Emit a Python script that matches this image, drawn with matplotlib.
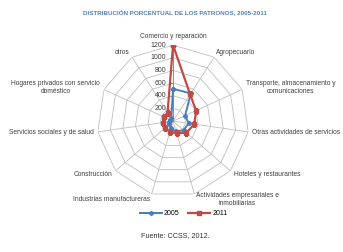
import numpy as np
import matplotlib
matplotlib.use("Agg")
import matplotlib.pyplot as plt

plt.rcParams["font.family"] = ["Liberation Sans", "DejaVu Sans"]

categories = [
    "Comercio y reparación",
    "Agropecuario",
    "Transporte, almacenamiento y\ncomunicaciones",
    "Otras actividades de servicios",
    "Hoteles y restaurantes",
    "Actividades empresariales e\ninmobiliarias",
    "Industrias manufactureras",
    "Construcción",
    "Servicios sociales y de salud",
    "Hogares privados con servicio\ndoméstico",
    "otros",
]
v2005 = [510, 520, 210, 250, 220, 170, 120, 80, 70, 60, 50]
v2011 = [1200, 500, 400, 340, 280, 200, 175, 170, 160, 150, 160]
r_ticks = [0, 200, 400, 600, 800, 1000, 1200]

BLUE = "#4A7EBB"
RED = "#BE4B48"
GRID = "#BFBFBF"
INK = "#404040"

n = len(categories)
ang = np.arange(n) * 2 * np.pi / n
ang_c = np.append(ang, ang[0])
rmax = r_ticks[-1]

fig = plt.figure(figsize=(3.43, 2.52), dpi=100)
ax = fig.add_axes([0.283, 0.218, 0.443, 0.603], projection="polar")
ax.set_theta_offset(np.pi / 2)
ax.set_theta_direction(-1)
ax.set_ylim(0, rmax)
ax.grid(False)
ax.spines["polar"].set_visible(False)
ax.set_xticks([])
ax.set_yticks([])

# polygon rings and spokes
for r in r_ticks[1:]:
    ax.plot(ang_c, [r] * (n + 1), color=GRID, lw=0.6, zorder=1)
for a in ang:
    ax.plot([a, a], [0, rmax], color=GRID, lw=0.6, zorder=1)
ax.plot([0, 0], [0, rmax], color="#868686", lw=0.6, zorder=1)
ax.plot([0] * len(r_ticks), r_ticks, ls="none", marker=0, ms=2.5,
        mew=0.6, color="#868686", zorder=1)

for r in r_ticks:
    ax.annotate(str(r), (0, r), xytext=(-5, 0), textcoords="offset points",
                ha="right", va="center", fontsize=5.0, color=INK)

ax.plot(ang_c, v2005 + v2005[:1], color=BLUE, lw=1.4, marker="D", ms=2.2,
        label="2005", zorder=3)
ax.plot(ang_c, v2011 + v2011[:1], color=RED, lw=1.6, marker="s", ms=2.8,
        label="2011", zorder=4)

for a, lab in zip(ang, categories):
    s, c = np.sin(a), np.cos(a)
    ha = "left" if s > 0.1 else ("right" if s < -0.1 else "center")
    va = "bottom" if c > 0.99 else "center"
    ax.annotate(lab, (a, rmax), xytext=(3 * s, 4 * c), textcoords="offset points",
                ha=ha, va=va, multialignment="center", fontsize=4.8, color=INK)

fig.text(0.51, 0.950, "DISTRIBUCIÓN PORCENTUAL DE LOS PATRONOS, 2005-2011",
         ha="center", va="center", fontsize=4.5, fontweight="bold", color="#4F81BD")
fig.legend(loc="center", bbox_to_anchor=(0.535, 0.152), ncol=2, frameon=False,
           fontsize=5.0, handlelength=3.2, columnspacing=1.2, handletextpad=0.3)
fig.text(0.51, 0.067, "Fuente: CCSS, 2012.", ha="center", va="center",
         fontsize=5.2, color="#333333")

fig.savefig("out.png", dpi=100, facecolor="white")
